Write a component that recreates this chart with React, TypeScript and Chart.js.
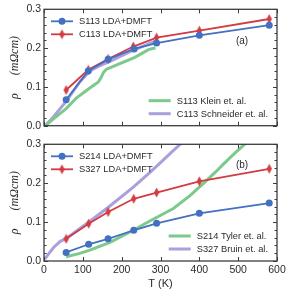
import React, { useEffect, useRef } from "react";
import { Chart, registerables } from "chart.js";
Chart.register(...registerables);

// ---------- data ----------
const X_TICKS = [0, 100, 200, 300, 400, 500, 600];
const Y_TICKS = [0.0, 0.1, 0.2, 0.3];

// panel (a)
const S113_T = [57, 114, 165, 232, 290, 400, 580];
const S113_RHO = [0.067, 0.141, 0.171, 0.198, 0.213, 0.233, 0.259];
const C113_T = [57, 114, 165, 230, 290, 400, 580];
const C113_RHO = [0.092, 0.144, 0.172, 0.204, 0.227, 0.245, 0.275];
const KLEIN_T = [3, 30, 57, 84, 118, 140, 146, 153, 160, 183, 234, 269, 287];
const KLEIN_RHO = [0.0, 0.022, 0.044, 0.072, 0.097, 0.113, 0.122, 0.137, 0.145, 0.155, 0.176, 0.196, 0.201];
const SCHN_T = [3, 24, 58, 93, 118, 144, 170, 230, 285];
const SCHN_RHO = [0.0, 0.0225, 0.064, 0.114, 0.141, 0.155, 0.166, 0.195, 0.217];

// panel (b)
const S214_T = [57, 115, 165, 231, 290, 400, 580];
const S214_RHO = [0.022, 0.043, 0.057, 0.079, 0.097, 0.1225, 0.149];
const S327_T = [57, 115, 165, 231, 290, 400, 580];
const S327_RHO = [0.057, 0.096, 0.126, 0.16, 0.176, 0.205, 0.237];
const TYLER_T = [57, 90, 118, 170, 230, 275, 333, 376, 410, 440, 462, 490, 522, 540];
const TYLER_RHO = [0.011, 0.019, 0.028, 0.048, 0.079, 0.104, 0.135, 0.168, 0.199, 0.227, 0.249, 0.276, 0.305, 0.322];
const BRUIN_T = [2, 10, 24, 41, 57, 114, 164, 230, 273, 300, 330, 356, 370];
const BRUIN_RHO = [0.005, 0.016, 0.034, 0.05, 0.058, 0.099, 0.137, 0.19, 0.228, 0.253, 0.281, 0.305, 0.318];

const LABELS_A = ["S113 LDA+DMFT", "C113 LDA+DMFT", "S113 Klein et. al.", "C113 Schneider et. al."];
const LABELS_B = ["S214 LDA+DMFT", "S327 LDA+DMFT", "S214 Tyler et. al.", "S327 Bruin et. al."];

// ---------- style ----------
const BLUE = "#4470c2";
const RED = "#d23c42";
const GREEN = "#7cc98b";
const PURPLE = "#ab9fdc";
const FRAME = "#3c3c3c";
const TEXT = "#2b2b2b";
const SANS = "'Liberation Sans', Arial, sans-serif";

function thinDiamond(color: string) {
  const c = document.createElement("canvas");
  c.width = 7;
  c.height = 11;
  const ctx = c.getContext("2d")!;
  ctx.fillStyle = color;
  ctx.beginPath();
  ctx.moveTo(3.5, 0.5);
  ctx.lineTo(6.2, 5.5);
  ctx.lineTo(3.5, 10.5);
  ctx.lineTo(0.8, 5.5);
  ctx.closePath();
  ctx.fill();
  return c;
}

const zip = (xs: number[], ys: number[]) => xs.map((x, i) => ({ x, y: ys[i] }));

function dmft(label: string, xs: number[], ys: number[], color: string, marker: any) {
  return {
    label,
    data: zip(xs, ys),
    borderColor: color,
    backgroundColor: color,
    borderWidth: 1.8,
    pointStyle: marker,
    pointRadius: 3.5,
    pointBorderWidth: 0,
    pointBackgroundColor: color,
    tension: 0,
    clip: 0,
  };
}
function expt(label: string, xs: number[], ys: number[], color: string) {
  return {
    label,
    data: zip(xs, ys),
    borderColor: color,
    backgroundColor: color,
    borderWidth: 3,
    pointRadius: 0,
    tension: 0,
    clip: 0,
  };
}

const framePlugin = {
  id: "frameDeco",
  afterDatasetsDraw(chart: any, _args: any, opts: any) {
    const { ctx, chartArea: a, scales } = chart;
    const x = scales.x;
    const y = scales.y;
    ctx.save();
    ctx.strokeStyle = FRAME;
    ctx.lineWidth = 1;
    const seg = (x1: number, y1: number, x2: number, y2: number) => {
      ctx.beginPath();
      ctx.moveTo(x1, y1);
      ctx.lineTo(x2, y2);
      ctx.stroke();
    };
    X_TICKS.forEach((v) => {
      const px = Math.round(x.getPixelForValue(v)) + 0.5;
      seg(px, a.bottom, px, a.bottom - 4);
      seg(px, a.top, px, a.top + 4);
    });
    const minorStep = opts.minorStep;
    const n = Math.round((y.max - y.min) / minorStep);
    for (let i = 0; i <= n; i++) {
      const v = y.min + i * minorStep;
      const py = Math.round(y.getPixelForValue(v)) + 0.5;
      const major = i % 5 === 0;
      const len = major ? 4 : 2.5;
      seg(a.left, py, a.left + len, py);
      seg(a.right, py, a.right - len, py);
    }
    ctx.lineWidth = 1.3;
    ctx.strokeRect(a.left, a.top, a.right - a.left, a.bottom - a.top);

    // panel tag
    ctx.fillStyle = TEXT;
    ctx.font = `10px ${SANS}`;
    ctx.textAlign = "center";
    ctx.textBaseline = "middle";
    ctx.fillText(opts.tag, a.right - opts.tagDx, a.top + opts.tagDy);

    // legends
    const ds = chart.data.datasets;
    ctx.font = `9.3px ${SANS}`;
    ctx.textAlign = "left";
    const lineLen = 22;
    const gap = 6;
    opts.groups.forEach((g: any) => {
      const widths = g.ids.map((id: number) => ctx.measureText(ds[id].label).width);
      const maxW = Math.max(...widths);
      let lineX: number;
      if (g.anchor === "left") lineX = a.left + g.dx;
      else lineX = a.right - g.dx - maxW - gap - lineLen;
      g.ids.forEach((id: number, k: number) => {
        const d = ds[id];
        const yy = g.fromTop ? a.top + g.dy + k * 13 : a.bottom - g.dy + k * 13;
        ctx.strokeStyle = d.borderColor;
        ctx.lineWidth = d.borderWidth;
        seg(lineX, yy, lineX + lineLen, yy);
        const cx = lineX + lineLen / 2;
        if (d.pointRadius > 0) {
          if (d.pointStyle === "circle") {
            ctx.fillStyle = d.borderColor;
            ctx.beginPath();
            ctx.arc(cx, yy, d.pointRadius, 0, Math.PI * 2);
            ctx.fill();
          } else if (d.pointStyle instanceof HTMLCanvasElement) {
            ctx.drawImage(d.pointStyle, cx - d.pointStyle.width / 2, yy - d.pointStyle.height / 2);
          }
        }
        ctx.fillStyle = TEXT;
        ctx.fillText(d.label, lineX + lineLen + gap, yy + 0.5);
      });
    });
    ctx.restore();
  },
};

function makeOptions(showX: boolean, xHeight: number, padTop: number, deco: any) {
  return {
    responsive: false,
    animation: false,
    layout: { padding: { top: padTop, right: 14, left: 0, bottom: 0 } },
    plugins: {
      legend: { display: false },
      tooltip: { enabled: false },
      frameDeco: deco,
    },
    scales: {
      x: {
        type: "linear",
        min: 0,
        max: 600,
        grid: { display: false, drawTicks: false },
        border: { display: false },
        afterBuildTicks: (s: any) => {
          s.ticks = X_TICKS.map((v) => ({ value: v }));
        },
        afterFit: (s: any) => {
          s.height = xHeight;
        },
        ticks: {
          display: showX,
          padding: 3,
          color: TEXT,
          font: { family: SANS, size: 10.5 },
          callback: (v: any) => String(v),
        },
        title: {
          display: showX,
          text: "T (K)",
          color: TEXT,
          font: { family: SANS, size: 11 },
          padding: { top: 0, bottom: 0 },
        },
      },
      y: {
        type: "linear",
        min: 0,
        max: 0.3,
        grid: { display: false, drawTicks: false },
        border: { display: false },
        afterBuildTicks: (s: any) => {
          s.ticks = Y_TICKS.map((v) => ({ value: v }));
        },
        afterFit: (s: any) => {
          s.width = 44;
        },
        ticks: {
          padding: 3,
          color: TEXT,
          font: { family: SANS, size: 10.5 },
          callback: (v: any) => Number(v).toFixed(1),
        },
        title: {
          display: true,
          text: "ρ      (mΩcm)",
          color: TEXT,
          font: { family: "'Liberation Serif', serif", size: 12, style: "italic" },
          padding: { top: 8, bottom: 0 },
        },
      },
    },
  };
}

export default function App() {
  const topRef = useRef<HTMLCanvasElement>(null);
  const botRef = useRef<HTMLCanvasElement>(null);

  useEffect(() => {
    const dia = thinDiamond(RED);
    const top = new Chart(topRef.current!, {
      type: "line",
      data: {
        datasets: [
          dmft(LABELS_A[0], S113_T, S113_RHO, BLUE, "circle"),
          dmft(LABELS_A[1], C113_T, C113_RHO, RED, dia),
          expt(LABELS_A[2], KLEIN_T, KLEIN_RHO, GREEN),
          expt(LABELS_A[3], SCHN_T, SCHN_RHO, PURPLE),
        ],
      },
      options: makeOptions(false, 6, 9, {
        minorStep: 0.02,
        tag: "(a)",
        tagDx: 35,
        tagDy: 32,
        groups: [
          { ids: [0, 1], anchor: "left", dx: 7, dy: 12, fromTop: true },
          { ids: [2, 3], anchor: "right", dx: 9, dy: 25, fromTop: false },
        ],
      }) as any,
      plugins: [framePlugin],
    });
    const bot = new Chart(botRef.current!, {
      type: "line",
      data: {
        datasets: [
          dmft(LABELS_B[0], S214_T, S214_RHO, BLUE, "circle"),
          dmft(LABELS_B[1], S327_T, S327_RHO, RED, dia),
          expt(LABELS_B[2], TYLER_T, TYLER_RHO, GREEN),
          expt(LABELS_B[3], BRUIN_T, BRUIN_RHO, PURPLE),
        ],
      },
      options: makeOptions(true, 30, 6, {
        minorStep: 0.02,
        tag: "(b)",
        tagDx: 35,
        tagDy: 21,
        groups: [
          { ids: [0, 1], anchor: "left", dx: 7, dy: 12, fromTop: true },
          { ids: [2, 3], anchor: "right", dx: 9, dy: 25, fromTop: false },
        ],
      }) as any,
      plugins: [framePlugin],
    });
    return () => {
      top.destroy();
      bot.destroy();
    };
  }, []);

  return (
    <div style={{ position: "fixed", left: 0, top: 0, width: 291, height: 291, background: "#fff" }}>
      <canvas ref={topRef} width={291} height={135} style={{ display: "block", width: 291, height: 135 }} />
      <canvas ref={botRef} width={291} height={156} style={{ display: "block", width: 291, height: 156 }} />
    </div>
  );
}
